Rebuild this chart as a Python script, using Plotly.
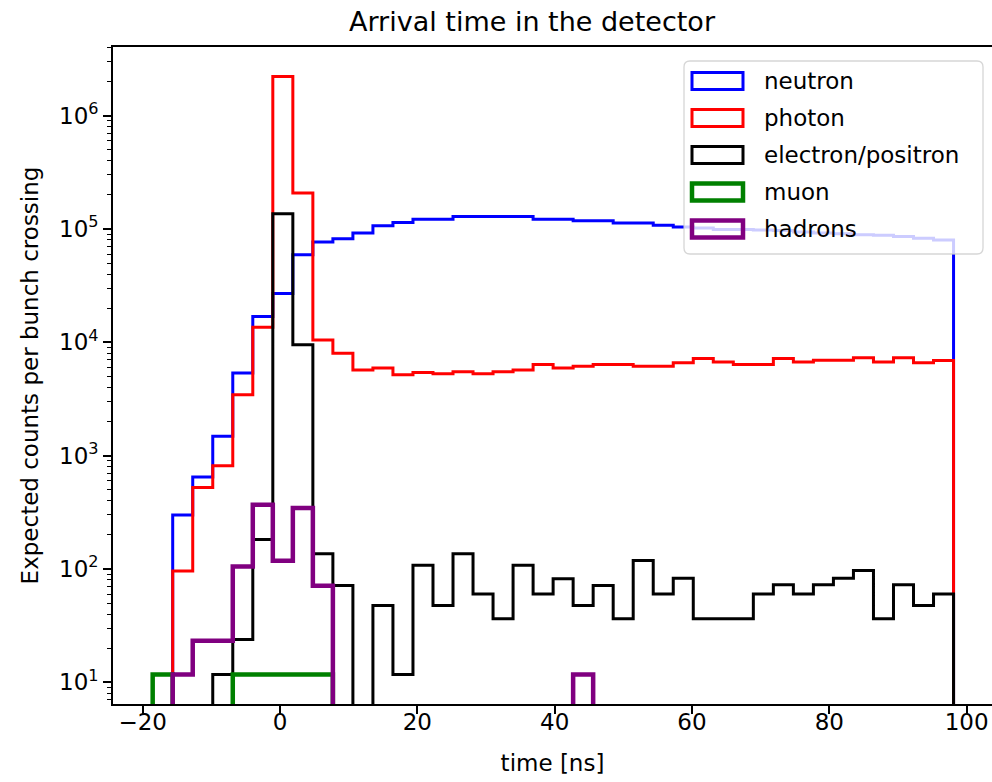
import numpy as np
import plotly.graph_objects as go

# Histogram binning of the arrival time [ns]
T_MIN, T_MAX, N_BINS = -18.55, 98.1, 40

# Expected counts per bunch crossing in each time bin (0 = empty bin)
neutron = [0, 300, 647, 1480, 5360, 16900, 26900, 59300, 76800, 82000,
           92000, 107000, 114000, 122000, 122000, 129000, 129000, 129000, 129000, 122000,
           122000, 118000, 118000, 113000, 113000, 108000, 104000, 102000, 99000, 99000,
           98000, 97000, 94000, 92000, 91000, 89000, 88000, 86000, 83000, 80000]
photon = [0, 96, 523, 815, 3440, 13600, 2220000, 208000, 10500, 8000,
          5700, 5930, 5170, 5420, 5280, 5500, 5280, 5500, 5700, 6380,
          5930, 6150, 6380, 6380, 6150, 6150, 6600, 7200, 6700, 6380,
          6380, 7200, 6700, 6930, 6930, 7300, 6700, 7300, 6600, 6900]
electron = [0, 0, 0, 11.7, 23.8, 182, 136000, 9500, 136, 71.6,
            0, 47.5, 11.7, 108, 47.5, 136, 60.2, 36.3, 108, 60.2,
            81.8, 47.5, 71.6, 36.3, 119, 60.2, 83, 36.3, 36.3, 36.3,
            60.2, 72.5, 60.2, 72.5, 83, 97, 36.3, 72.5, 47.5, 60.2]
muon = [11.7, 0, 0, 0, 11.7, 11.7, 11.7, 11.7, 11.7, 0,
        0, 0, 0, 0, 0, 0, 0, 0, 0, 0,
        0, 0, 0, 0, 0, 0, 0, 0, 0, 0,
        0, 0, 0, 0, 0, 0, 0, 0, 0, 0]
hadrons = [0, 11.7, 23.3, 23.3, 105, 369, 118, 345, 71, 0,
           0, 0, 0, 0, 0, 0, 0, 0, 0, 0,
           0, 11.7, 0, 0, 0, 0, 0, 0, 0, 0,
           0, 0, 0, 0, 0, 0, 0, 0, 0, 0]

SERIES = [neutron, photon, electron, muon, hadrons]
SERIES_NAMES = ["neutron", "photon", "electron/positron", "muon", "hadrons"]
SERIES_COLORS = ["#0000ff", "#ff0000", "#000000", "#008000", "#800080"]
SERIES_WIDTHS = [3, 3, 3, 4.5, 4.5]

X_TICKS = [-20, 0, 20, 40, 60, 80, 100]
Y_TICKS = [1e1, 1e2, 1e3, 1e4, 1e5, 1e6]
Y_TICK_TEXT = ["10<sup>1</sup>", "10<sup>2</sup>", "10<sup>3</sup>",
               "10<sup>4</sup>", "10<sup>5</sup>", "10<sup>6</sup>"]

TITLE = "Arrival time in the detector"
X_LABEL = "time [ns]"
Y_LABEL = "Expected counts per bunch crossing"

FONT = "DejaVu Sans"
EMPTY = 1e-3  # empty bins drop below the visible log range

# figure geometry (pixels)
W, H = 992, 782
M_L, M_R, M_T, M_B = 113, 0, 47, 78
PLOT_W = W - M_L - M_R
PLOT_H = H - M_T - M_B
X_RANGE = [-24.33, 103.7]
Y_RANGE_LOG = [0.8085, 6.606]

edges = np.linspace(T_MIN, T_MAX, N_BINS + 1)


def step_outline(counts):
    """Outline of a step histogram (like histtype='step')."""
    c = np.asarray(counts, dtype=float)
    c = np.where(c > 0, c, EMPTY)
    xs = np.concatenate([[edges[0]], edges])
    ys = np.concatenate([[EMPTY], c, [EMPTY]])
    return xs, ys


fig = go.Figure()
for counts, name, color, lw in zip(SERIES, SERIES_NAMES, SERIES_COLORS, SERIES_WIDTHS):
    xs, ys = step_outline(counts)
    fig.add_trace(go.Scatter(
        x=xs, y=ys, mode="lines", name=name,
        line=dict(color=color, width=lw, shape="hv"),
        showlegend=False, hoverinfo="skip",
    ))


def paper_x(px):
    return (px - M_L) / PLOT_W


def paper_y(py):
    return (M_T + PLOT_H - py) / PLOT_H


# legend frame (rounded, semi-transparent white)
lx0, lx1, ly0, ly1, r = 684, 983, 61, 254, 6
X0, X1 = paper_x(lx0), paper_x(lx1)
Y0, Y1 = paper_y(ly1), paper_y(ly0)
rx, ry = r / PLOT_W, r / PLOT_H
path = (f"M{X0+rx},{Y0} L{X1-rx},{Y0} Q{X1},{Y0} {X1},{Y0+ry} "
        f"L{X1},{Y1-ry} Q{X1},{Y1} {X1-rx},{Y1} L{X0+rx},{Y1} "
        f"Q{X0},{Y1} {X0},{Y1-ry} L{X0},{Y0+ry} Q{X0},{Y0} {X0+rx},{Y0} Z")
shapes = [dict(type="path", path=path, xref="paper", yref="paper", layer="above",
               fillcolor="rgba(255,255,255,0.8)",
               line=dict(color="rgba(204,204,204,0.8)", width=1.3))]
annotations = []
row0, row_step = 81, 37
for i, (name, color, lw) in enumerate(zip(SERIES_NAMES, SERIES_COLORS, SERIES_WIDTHS)):
    yc = row0 + i * row_step
    shapes.append(dict(type="rect", xref="paper", yref="paper", layer="above",
                       x0=paper_x(692), x1=paper_x(743),
                       y0=paper_y(yc + 8.5), y1=paper_y(yc - 8.5),
                       line=dict(color=color, width=lw), fillcolor="rgba(0,0,0,0)"))
    annotations.append(dict(text=name, xref="paper", yref="paper",
                            x=paper_x(762), y=paper_y(yc), xanchor="left", yanchor="middle",
                            showarrow=False, font=dict(family=FONT, size=23, color="black")))

fig.update_layout(
    width=W, height=H,
    margin=dict(l=M_L, r=M_R, t=M_T, b=M_B),
    paper_bgcolor="white", plot_bgcolor="white",
    font=dict(family=FONT, size=23, color="black"),
    title=dict(text=TITLE, x=paper_x(532), xref="paper", xanchor="center",
               y=1 - 22 / H, yref="container", yanchor="middle",
               font=dict(family=FONT, size=27, color="black")),
    shapes=shapes,
    annotations=annotations,
    showlegend=False,
)

fig.update_xaxes(
    range=X_RANGE,
    tickmode="array", tickvals=X_TICKS,
    ticks="outside", ticklen=8, tickwidth=1.6, tickcolor="black",
    ticklabelstandoff=-11,
    showline=True, linewidth=1.6, linecolor="black", mirror=True,
    showgrid=False, zeroline=False,
    tickfont=dict(family=FONT, size=23),
    title=dict(text=X_LABEL, font=dict(family=FONT, size=23), standoff=20),
)

minor_vals = [m * 10.0 ** d for d in range(0, 7) for m in range(2, 10)]
fig.update_yaxes(
    type="log", range=Y_RANGE_LOG,
    tickmode="array", tickvals=Y_TICKS, ticktext=Y_TICK_TEXT,
    ticks="outside", ticklen=8, tickwidth=1.6, tickcolor="black",
    minor=dict(tickmode="array", tickvals=minor_vals, ticks="outside",
               ticklen=4.5, tickwidth=1.2, tickcolor="black", showgrid=False),
    showline=True, linewidth=1.6, linecolor="black", mirror=False,
    showgrid=False, zeroline=False,
    tickfont=dict(family=FONT, size=23),
    title=dict(text=Y_LABEL, font=dict(family=FONT, size=23), standoff=14),
)

fig.write_html("out.html")
